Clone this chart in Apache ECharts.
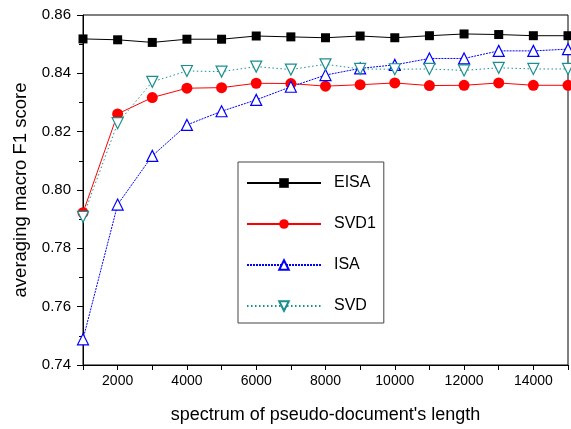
<!DOCTYPE html>
<html>
<head>
    <meta charset="UTF-8">
    <title>macro F1</title>
</head>
<style>
    html,body{margin:0;padding:0;background:#fff;}
    #chart{width:571px;height:429px;}
</style>
<body>
<div id="chart"></div>
<script src="https://cdn.jsdelivr.net/npm/echarts@6/dist/echarts.min.js"></script>
<script>
    // document length (x) and the four curves
    var lengths = [1000, 2000, 3000, 4000, 5000, 6000, 7000, 8000, 9000, 10000, 11000, 12000, 13000, 14000, 15000];
    var eisa = [0.8518, 0.8515, 0.8506, 0.8517, 0.8517, 0.8528, 0.8525, 0.8522, 0.8528, 0.8522, 0.8529, 0.8535, 0.8533, 0.8529, 0.8529];
    var svd1 = [0.7922, 0.8261, 0.8317, 0.8349, 0.8351, 0.8366, 0.8365, 0.8356, 0.8361, 0.8367, 0.8358, 0.8359, 0.8367, 0.8359, 0.8359];
    var isa  = [0.7488, 0.7950, 0.8117, 0.8223, 0.8270, 0.8309, 0.8354, 0.8394, 0.8417, 0.8429, 0.8451, 0.8451, 0.8477, 0.8477, 0.8483];
    var svd  = [0.7908, 0.8229, 0.8371, 0.8408, 0.8406, 0.8423, 0.8413, 0.8431, 0.8415, 0.8414, 0.8415, 0.8410, 0.8419, 0.8415, 0.8415];

    function pairs(arr){
        var out = [];
        for (var i = 0; i < arr.length; i++) out.push([lengths[i], arr[i]]);
        return out;
    }

    var font = 'Liberation Sans, Arial, sans-serif';
    var draw = echarts.init(document.getElementById('chart'));
    var option = {
        animation: false,
        grid: {
            left: 83, right: -8, top: 15, bottom: 64,
            show: true, borderColor: '#000', borderWidth: 1
        },
        legend: {
            orient: 'vertical',
            left: 238, top: 162,
            padding: [13, 8, 9, 8],
            itemGap: 25,
            itemWidth: 74,
            itemHeight: 12,
            borderColor: '#444',
            borderWidth: 1,
            backgroundColor: '#fff',
            textStyle: {fontFamily: font, fontSize: 16, color: '#000', padding: [0, 0, 0, 8]},
            data: ['EISA', 'SVD1', 'ISA', 'SVD']
        },
        xAxis: {
            type: 'value',
            min: 1000, max: 15000, interval: 1000,
            name: "spectrum of pseudo-document's length",
            nameLocation: 'middle',
            nameGap: 41,
            nameTextStyle: {fontFamily: font, fontSize: 18, color: '#000'},
            axisLine: {lineStyle: {color: '#000', width: 1}},
            axisTick: {length: 5, lineStyle: {color: '#000'}},
            axisLabel: {
                fontFamily: font, fontSize: 14, color: '#000', margin: 9,
                formatter: function (v) { return v % 2000 === 0 ? String(v) : ''; }
            },
            splitLine: {show: false}
        },
        yAxis: {
            type: 'value',
            min: 0.74, max: 0.86, interval: 0.02,
            name: 'averaging macro F1 score',
            nameLocation: 'middle',
            nameGap: 53,
            nameTextStyle: {fontFamily: font, fontSize: 18.5, color: '#000'},
            axisLine: {show: true, lineStyle: {color: '#000', width: 1}},
            axisTick: {length: 6, lineStyle: {color: '#000'}},
            minorTick: {show: true, splitNumber: 2, length: 4, lineStyle: {color: '#000'}},
            axisLabel: {
                fontFamily: font, fontSize: 15, color: '#000', margin: 12,
                formatter: function (v) { return v.toFixed(2); }
            },
            splitLine: {show: false}
        },
        series: [
            {
                name: 'EISA', type: 'line', data: pairs(eisa),
                symbol: 'rect', symbolSize: 9,
                itemStyle: {color: '#000'},
                lineStyle: {color: '#000', width: 1}
            },
            {
                name: 'SVD1', type: 'line', data: pairs(svd1),
                symbol: 'circle', symbolSize: 11,
                itemStyle: {color: '#ff0000'},
                lineStyle: {color: '#ff0000', width: 1}
            },
            {
                name: 'ISA', type: 'line', data: pairs(isa),
                symbol: 'triangle', symbolSize: 11,
                itemStyle: {color: '#fff', borderColor: '#0000ff', borderWidth: 1.2},
                lineStyle: {color: '#0000ff', width: 1, type: [2, 1]}
            },
            {
                name: 'SVD', type: 'line', data: pairs(svd),
                symbol: 'triangle', symbolRotate: 180, symbolSize: 11,
                itemStyle: {color: '#fff', borderColor: '#1a8f8f', borderWidth: 1.2},
                lineStyle: {color: '#1a8f8f', width: 1, type: [1.5, 2.5]}
            }
        ]
    };
    draw.setOption(option);
</script>
</body>
</html>
